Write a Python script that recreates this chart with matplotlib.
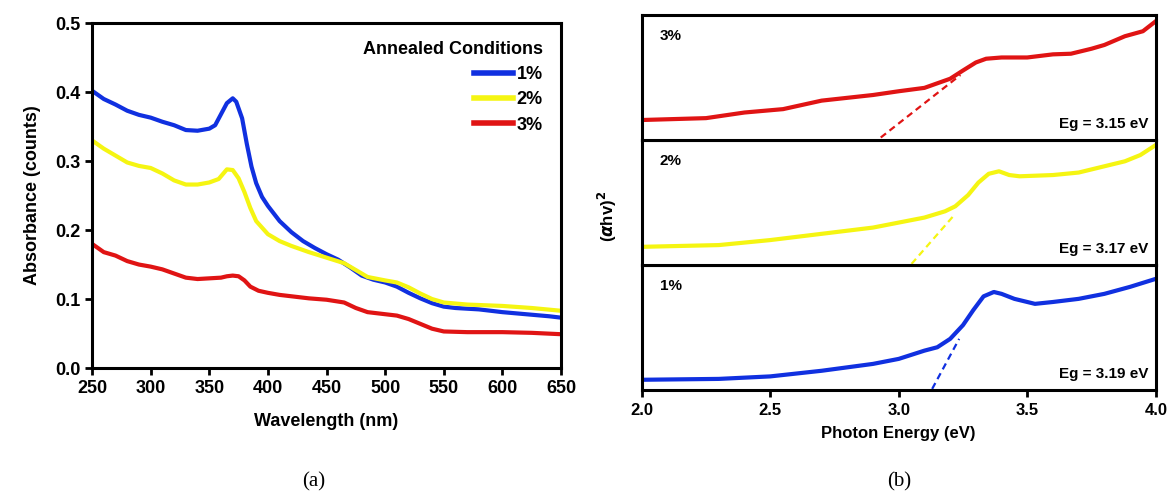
import matplotlib.pyplot as plt

plt.rcParams['font.family'] = ['Liberation Sans', 'DejaVu Sans']
plt.rcParams['font.weight'] = 'bold'

# (a) absorbance spectra
wl_1 = [250, 260, 270, 280, 290, 300, 310, 320, 330, 340, 350, 355, 360, 365, 370, 373, 378,
        382, 386, 390, 395, 400, 410, 420, 430, 440, 450, 460, 470, 480, 490, 500, 510, 520,
        530, 540, 550, 560, 580, 600, 620, 640, 650]
abs_1 = [0.402, 0.39, 0.382, 0.373, 0.367, 0.363, 0.357, 0.352, 0.345, 0.344, 0.347, 0.352,
         0.368, 0.384, 0.391, 0.386, 0.362, 0.325, 0.292, 0.268, 0.248, 0.235, 0.213, 0.197,
         0.184, 0.174, 0.165, 0.157, 0.146, 0.134, 0.128, 0.124, 0.118, 0.109, 0.101, 0.094,
         0.089, 0.087, 0.085, 0.081, 0.078, 0.075, 0.073]

wl_2 = [250, 260, 270, 280, 290, 300, 310, 320, 330, 340, 350, 358, 365, 370, 375, 380, 385,
        390, 400, 410, 420, 435, 450, 465, 475, 485, 500, 510, 520, 530, 540, 550, 570, 600,
        625, 650]
abs_2 = [0.33, 0.318, 0.308, 0.298, 0.293, 0.29, 0.282, 0.272, 0.266, 0.266, 0.269, 0.274,
         0.288, 0.287, 0.275, 0.255, 0.232, 0.213, 0.194, 0.184, 0.177, 0.168, 0.16, 0.152,
         0.142, 0.132, 0.127, 0.124, 0.117, 0.108, 0.1, 0.095, 0.092, 0.09, 0.087, 0.083]

wl_3 = [250, 260, 270, 280, 290, 300, 310, 320, 330, 340, 350, 360, 365, 370, 375, 380, 385,
        392, 400, 410, 420, 435, 450, 465, 475, 485, 500, 510, 520, 530, 540, 550, 570, 600,
        625, 650]
abs_3 = [0.18, 0.168, 0.163, 0.155, 0.15, 0.147, 0.143, 0.137, 0.131, 0.129, 0.13, 0.131,
         0.133, 0.134, 0.133, 0.127, 0.118, 0.112, 0.109, 0.106, 0.104, 0.101, 0.099, 0.095,
         0.087, 0.081, 0.078, 0.076, 0.071, 0.064, 0.057, 0.053, 0.052, 0.052, 0.051, 0.049]

# (b) Tauc plots (arbitrary units, each panel 0..1)
ev_1 = [2.0, 2.3, 2.5, 2.7, 2.9, 3.0, 3.1, 3.15, 3.2, 3.25, 3.29, 3.33, 3.37, 3.4, 3.45,
        3.5, 3.53, 3.6, 3.7, 3.8, 3.9, 4.0]
tauc_1 = [0.083, 0.09, 0.11, 0.155, 0.21, 0.25, 0.316, 0.343, 0.41, 0.52, 0.64, 0.75,
          0.785, 0.77, 0.73, 0.705, 0.69, 0.705, 0.73, 0.77, 0.826, 0.89]

ev_2 = [2.0, 2.3, 2.5, 2.7, 2.9, 3.0, 3.1, 3.18, 3.22, 3.27, 3.31, 3.35, 3.39, 3.43, 3.47,
        3.6, 3.7, 3.8, 3.88, 3.94, 4.0]
tauc_2 = [0.146, 0.16, 0.2, 0.25, 0.3, 0.34, 0.38, 0.43, 0.47, 0.56, 0.66, 0.73, 0.75,
          0.72, 0.71, 0.72, 0.74, 0.79, 0.83, 0.88, 0.96]

ev_3 = [2.0, 2.25, 2.4, 2.55, 2.7, 2.9, 3.0, 3.1, 3.2, 3.25, 3.3, 3.34, 3.4, 3.5, 3.6,
        3.67, 3.75, 3.8, 3.88, 3.95, 4.0]
tauc_3 = [0.16, 0.175, 0.22, 0.247, 0.315, 0.36, 0.39, 0.417, 0.49, 0.556, 0.62, 0.65,
          0.66, 0.66, 0.685, 0.69, 0.73, 0.76, 0.83, 0.87, 0.95]

# tangent lines used for the band gap
fit_x = [[3.13, 3.235], [3.05, 3.22], [2.93, 3.24]]
fit_y = [[0.01, 0.41], [0.01, 0.41], [0.02, 0.52]]

labels = ['1%', '2%', '3%']
gaps = ['Eg = 3.19 eV', 'Eg = 3.17 eV', 'Eg = 3.15 eV']
colors = ['#1030e0', '#f5f512', '#e01414']

fig = plt.figure(figsize=(11.71, 4.92), dpi=100)

# ---- panel (a)
ax = fig.add_axes([0.0786, 0.252, 0.4005, 0.701])
ax.plot(wl_1, abs_1, color=colors[0], lw=3, label=labels[0])
ax.plot(wl_2, abs_2, color=colors[1], lw=3, label=labels[1])
ax.plot(wl_3, abs_3, color=colors[2], lw=3, label=labels[2])
ax.set_xlim(250, 650)
ax.set_ylim(0, 0.5)
ax.set_xticks(range(250, 651, 50))
ax.set_yticks([0.0, 0.1, 0.2, 0.3, 0.4, 0.5])
ax.set_yticklabels(['0.0', '0.1', '0.2', '0.3', '0.4', '0.5'])
ax.tick_params(direction='out', length=5, width=2, labelsize=13)
for s in ax.spines.values():
    s.set_linewidth(2.2)
ax.set_xlabel('Wavelength (nm)', fontsize=13, fontweight='bold', labelpad=12)
ax.set_ylabel('Absorbance (counts)', fontsize=13, fontweight='bold', labelpad=10)
leg = ax.legend(title='Annealed Conditions', loc='upper right', frameon=False,
                fontsize=13, title_fontproperties={'weight': 'bold', 'size': 13},
                handlelength=2.2, handletextpad=0.2, labelspacing=0.45,
                alignment='right', borderaxespad=0.6)
for h in leg.get_lines():
    h.set_linewidth(4)

# ---- panel (b)
ev_data = [ev_1, ev_2, ev_3]
tauc_data = [tauc_1, tauc_2, tauc_3]
x0, w, h = 0.548, 0.439, 0.2542
bottom = 0.207
for i in range(3):
    a = fig.add_axes([x0, bottom + i * h, w, h])
    a.plot(ev_data[i], tauc_data[i], color=colors[i], lw=3)
    a.plot(fit_x[i], fit_y[i], color=colors[i], lw=1.6, ls=(0, (3, 2)))
    a.set_xlim(2.0, 4.0)
    a.set_ylim(0, 1)
    a.set_yticks([])
    for s in a.spines.values():
        s.set_linewidth(2.2)
    a.text(0.035, 0.83, labels[i], transform=a.transAxes, fontsize=11,
           fontweight='bold', va='center', ha='left')
    a.text(0.985, 0.13, gaps[i], transform=a.transAxes, fontsize=11,
           fontweight='bold', va='center', ha='right')
    if i == 0:
        a.set_xticks([2.0, 2.5, 3.0, 3.5, 4.0])
        a.tick_params(axis='x', direction='out', length=5, width=2, labelsize=12, pad=4)
        a.set_xlabel('Photon Energy (eV)', fontsize=12, fontweight='bold', labelpad=6)
    else:
        a.set_xticks([])

fig.text(0.519, 0.56, r'($\alpha$hv)$^2$', rotation=90, fontsize=12, fontweight='bold',
         ha='center', va='center')

fig.text(0.268, 0.012, '(a)', fontsize=15, family='Liberation Serif',
         fontweight='normal', ha='center')
fig.text(0.768, 0.012, '(b)', fontsize=15, family='Liberation Serif',
         fontweight='normal', ha='center')

fig.savefig('out.png', dpi=100)
